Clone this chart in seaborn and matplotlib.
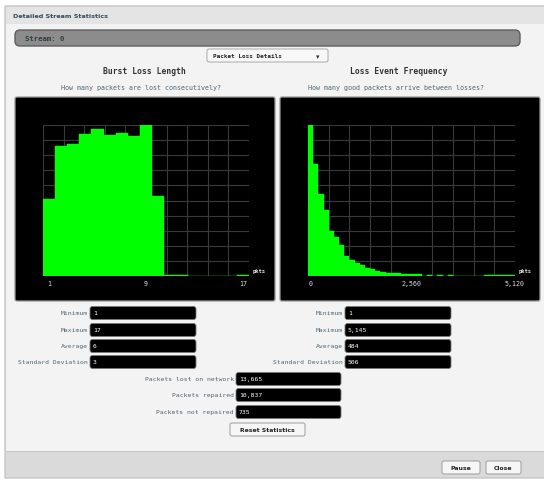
import numpy as np
import matplotlib
matplotlib.use('Agg')
import matplotlib.pyplot as plt
import seaborn as sns
from matplotlib.patches import FancyBboxPatch, Rectangle
from matplotlib.transforms import Affine2D

# Burst loss length: relative count per burst length (1..17 pkts), tallest bar = 1
burst_len = list(range(1, 18))
burst_share = [0.51, 0.86, 0.875, 0.94, 0.975, 0.935, 0.948, 0.925, 1.0, 0.53,
               0.008, 0.007, 0.002, 0.002, 0.002, 0.002, 0.008]
burst_ticks = ['1', '9', '17']

# Loss event frequency: 40 bins of 128 good packets between losses
gap_bin = list(range(40))
gap_share = [1.0, 0.74, 0.54, 0.44, 0.30, 0.255, 0.205, 0.135, 0.105, 0.088,
             0.073, 0.056, 0.044, 0.034, 0.027, 0.022, 0.021, 0.018, 0.012, 0.015,
             0.013, 0.010, 0.003, 0.007, 0.003, 0.007, 0.003, 0.007, 0.003, 0.002,
             0.002, 0.003, 0.002, 0.003, 0.006, 0.006, 0.006, 0.006, 0.006, 0.006]
gap_ticks = ['0', '2,560', '5,120']

stat_names = ['Minimum', 'Maximum', 'Average', 'Standard Deviation']
burst_stats = ['1', '17', '6', '3']
gap_stats = ['1', '5,145', '484', '506']
pkt_names = ['Packets lost on network', 'Packets repaired', 'Packets not repaired']
pkt_counts = ['13,665', '10,837', '735']

plt.rcParams['font.family'] = 'DejaVu Sans Mono'

W, H = 544, 481
fig = plt.figure(figsize=(W / 100, H / 100), dpi=100, facecolor='white')
# pixel coords, y pointing down
px = Affine2D().scale(1 / W, -1 / H).translate(0, 1) + fig.transFigure

GREEN = '#00ff00'
LABEL = '#4d6675'


def box(x0, y0, x1, y1, fc, ec='none', r=0, lw=0.8, z=1):
    p = FancyBboxPatch((x0, y0), x1 - x0, y1 - y0,
                       boxstyle=f'round,pad=0,rounding_size={r}',
                       fc=fc, ec=ec, lw=lw, transform=px, zorder=z)
    fig.add_artist(p)


def txt(x, y, s, **kw):
    kw.setdefault('va', 'center')
    fig.text(x, y, s, transform=px, **kw)


# dialog frame
box(5, 7, 546, 479, '#e4e4e4', ec='#b8b8b8', lw=0.8, z=0)
box(6, 25, 545, 452, '#f3f3f3', z=0.5)
box(6, 452, 545, 478, '#dadada', z=0.5)
fig.add_artist(Rectangle((6, 452), 539, 0.8, transform=px, fc='#c4c4c4', zorder=0.6))

txt(13, 17, 'Detailed Stream Statistics', family='DejaVu Sans', weight='bold',
    fontsize=4.6, color='#2f4b5e')

box(15, 31, 520, 47, '#8c8c8c', ec='#5e5e5e', r=5, lw=1)
txt(25, 39, 'Stream: 0', weight='bold', fontsize=5.2, color='#2e3e40')

# dropdown
box(207, 50, 328, 63, '#f8f8f8', ec='#a8a8a8', r=2, lw=0.7)
txt(213, 56.5, 'Packet Loss Details', weight='bold', fontsize=4.3, color='#222222')
txt(318, 57, '\u25be', family='DejaVu Sans', fontsize=5, color='#333333', ha='center')

# chart headers
txt(144, 71, 'Burst Loss Length', weight='bold', fontsize=5.8, color='#333333', ha='center')
txt(399, 71, 'Loss Event Frequency', weight='bold', fontsize=5.8, color='#333333', ha='center')
txt(141, 88, 'How many packets are lost consecutively?', fontsize=4.8, color=LABEL, ha='center')
txt(396, 88, 'How many good packets arrive between losses?', fontsize=4.8, color=LABEL, ha='center')

# black chart panels
box(15, 98, 275, 302, 'black', ec='#9a9a9a', r=2, lw=0.9, z=1)
box(280, 98, 540, 302, 'black', ec='#9a9a9a', r=2, lw=0.9, z=1)


def chart(x0, x1, cats, vals, tick_pos, tick_lab):
    ax = fig.add_axes([x0 / W, 1 - 277 / H, (x1 - x0) / W, 151 / H])
    ax.set_zorder(2)
    ax.set_facecolor('black')
    sns.barplot(x=cats, y=vals, ax=ax, color=GREEN, saturation=1, width=1,
                edgecolor=GREEN, linewidth=0.3, zorder=3)
    n = len(cats)
    ax.set_xlim(-0.5, n - 0.5)
    ax.set_ylim(0, 1)
    ax.set_xticks(np.linspace(-0.5, n - 0.5, 11), minor=True)
    ax.set_yticks(np.linspace(0, 1, 11))
    ax.set_xticks(tick_pos)
    ax.set_xticklabels(tick_lab)
    ax.set_yticklabels([])
    ax.grid(which='minor', axis='x', color='#3a3a3a', lw=0.8)
    ax.grid(which='major', axis='y', color='#3a3a3a', lw=0.8)
    ax.set_axisbelow(True)
    ax.tick_params(which='both', length=0, pad=2.6, labelsize=4.8, colors='#e0e0e0')
    ax.set_xlabel('')
    ax.set_ylabel('')
    for s in ax.spines.values():
        s.set_visible(False)
    return ax


chart(43, 249, burst_len, burst_share, [0, 8, 16], burst_ticks)
chart(308, 515, gap_bin, gap_share, [0, 19.5, 39.5], gap_ticks)
txt(253, 271.5, 'pkts', fontsize=4, color='#e8e8e8', weight='bold', zorder=3)
txt(519, 271.5, 'pkts', fontsize=4, color='#e8e8e8', weight='bold', zorder=3)


def stat_rows(lab_x, bx0, bx1, rows, names, vals):
    for yc, name, val in zip(rows, names, vals):
        txt(lab_x, yc, name, fontsize=4.6, color=LABEL, ha='right')
        box(bx0, yc - 6.5, bx1, yc + 6.5, 'black', ec='#777777', r=2.5, lw=0.6)
        txt(bx0 + 3, yc, val, fontsize=4.6, color='white')


stat_rows(88, 90, 196, [314, 331, 347, 363], stat_names, burst_stats)
stat_rows(343, 345, 451, [314, 331, 347, 363], stat_names, gap_stats)
stat_rows(234, 236, 341, [380, 396, 413], pkt_names, pkt_counts)

# buttons
box(230, 424, 305, 437, '#f6f6f6', ec='#9c9c9c', r=2, lw=0.7)
txt(267.5, 430.5, 'Reset Statistics', family='DejaVu Sans', weight='bold',
    fontsize=4.4, color='#222222', ha='center')
box(442, 462, 480, 475, '#f6f6f6', ec='#9c9c9c', r=2, lw=0.7)
txt(461, 468.5, 'Pause', family='DejaVu Sans', weight='bold', fontsize=4.4,
    color='#222222', ha='center')
box(486, 462, 521, 475, '#f6f6f6', ec='#9c9c9c', r=2, lw=0.7)
txt(503.5, 468.5, 'Close', family='DejaVu Sans', weight='bold', fontsize=4.4,
    color='#222222', ha='center')

fig.savefig('out.png', dpi=100)
